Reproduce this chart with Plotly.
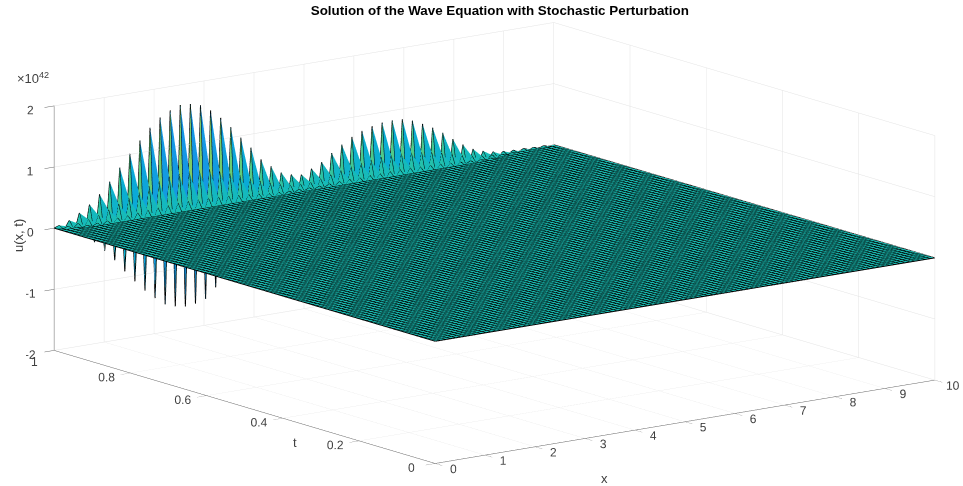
import numpy as np
import plotly.graph_objects as go

TITLE = "Solution of the Wave Equation with Stochastic Perturbation"
x_ticks = [0, 1, 2, 3, 4, 5, 6, 7, 8, 9, 10]
t_ticks = [0, 0.2, 0.4, 0.6, 0.8, 1]
t_ticktext = ["0", "0.2", "0.4", "0.6", "0.8", ""]
z_ticks = [-2, -1, 0, 1, 2]
z_ticktext = ["-2", "-1", "0", "1", "2"]
N_X = 100
N_T = 100

# values of u / 1e42 along the last three time rows
row_last = [0, .03, -.05, .085, -.12, .18, -.22, .29, -.34, .43, -.51, .61, -.69, .81, -.90, 1.01, -1.09, 1.20, -1.27, 1.38,
            -1.42, 1.52, -1.55, 1.61, -1.61, 1.67, -1.64, 1.66, -1.62, 1.61, -1.57, 1.50, -1.41, 1.35, -1.26, 1.17, -1.07, .97, -.87, .78,
            -.67, .56, -.49, .42, -.35, .29, -.26, .23, -.21, .20, -.23, .27, -.31, .35, -.41, .47, -.52, .58, -.63, .68,
            -.72, .75, -.78, .80, -.82, .83, -.84, .84, -.84, .83, -.81, .78, -.74, .70, -.66, .61, -.56, .50, -.44, .37,
            -.31, .25, -.20, .15, -.12, .09, -.07, .05, -.04, .03, -.02, .02, -.02, .02, -.01, .01, -.01, .01, -.01, 0]
row_prev = [0, -.01, .02, -.03, .04, -.06, .08, -.10, .12, -.15, .18, -.22, .25, -.29, .32, -.36, .39, -.43, .46, -.50,
            .51, -.55, .56, -.58, .58, -.60, .59, -.60, .58, -.58, .57, -.54, .51, -.49, .45, -.42, .39, -.35, .31, -.28,
            .24, -.20, .18, -.15, .13, -.10, .09, -.08, .08, -.07, .08, -.10, .11, -.13, .15, -.17, .19, -.21, .23, -.24,
            .26, -.27, .28, -.29, .30, -.30, .30, -.30, .30, -.30, .29, -.28, .27, -.25, .24, -.22, .20, -.18, .16, -.13,
            .11, -.09, .07, -.05, .04, -.03, .03, -.02, .01, -.01, .01, 0, 0, 0, 0, 0, 0, 0, 0, 0]
row_third = [0, 0, 0, .01, -.01, .01, -.02, .02, -.03, .03, -.04, .05, -.05, .06, -.07, .08, -.09, .10, -.10, .11,
             -.11, .12, -.12, .13, -.13, .13, -.13, .13, -.13, .13, -.13, .12, -.11, .11, -.10, .09, -.09, .08, -.07, .06,
             -.05, .04, -.04, .03, -.03, .02, -.02, .02, -.02, .02, -.02, .02, -.02, .03, -.03, .04, -.04, .05, -.05, .05,
             -.06, .06, -.06, .06, -.07, .07, -.07, .07, -.07, .07, -.06, .06, -.06, .06, -.05, .05, -.04, .04, -.04, .03,
             -.02, .02, -.02, .01, -.01, .01, -.01, 0, 0, 0, 0, 0, 0, 0, 0, 0, 0, 0, 0, 0]

parula_stops = [0, .1, .2, .3, .4, .5, .6, .7, .8, .9, 1]
parula_rgb = [(62, 38, 168), (71, 82, 244), (40, 120, 245), (25, 145, 232), (10, 172, 215), (25, 190, 180),
              (87, 204, 130), (140, 204, 90), (209, 189, 77), (252, 190, 60), (249, 251, 21)]
C_LIM = 1.67

x = np.linspace(0, 10, N_X)
t = np.linspace(0, 1, N_T)
Z = np.zeros((N_T, N_X))
Z[-1] = row_last
Z[-2] = row_prev
Z[-3] = row_third

X, T = np.meshgrid(x, t)
idx = np.arange(N_T * N_X).reshape(N_T, N_X)
a, b, c, d = idx[:-1, :-1].ravel(), idx[:-1, 1:].ravel(), idx[1:, 1:].ravel(), idx[1:, :-1].ravel()
zv = Z.ravel()
# split each cell so that an upward spike keeps its wide base on the row below
split_bd = zv[d] > zv[c]
tri_i = np.concatenate([a, np.where(split_bd, b, a)])
tri_j = np.concatenate([b, c])
tri_k = np.concatenate([np.where(split_bd, d, c), d])

frac = np.clip((Z[:-1, :-1].ravel() + C_LIM) / (2 * C_LIM), 0, 1)
chan = [np.interp(frac, parula_stops, [p[n] for p in parula_rgb]) for n in range(3)]
cell_cols = [f"rgb({int(r)},{int(g)},{int(bl)})" for r, g, bl in zip(*chan)]

fig = go.Figure()
fig.add_trace(go.Mesh3d(x=X.ravel(), y=T.ravel(), z=zv, i=tri_i, j=tri_j, k=tri_k,
                        facecolor=cell_cols + cell_cols, flatshading=True,
                        lighting=dict(ambient=1, diffuse=0, specular=0, fresnel=0),
                        hoverinfo="skip", showscale=False))

lx, ly, lz = [], [], []
for n in range(N_T):
    lx += list(X[n]) + [None]; ly += list(T[n]) + [None]; lz += list(Z[n]) + [None]
for m in range(N_X):
    lx += list(X[:, m]) + [None]; ly += list(T[:, m]) + [None]; lz += list(Z[:, m]) + [None]
fig.add_trace(go.Scatter3d(x=lx, y=ly, z=lz, mode="lines", line=dict(color="#000000", width=2),
                           hoverinfo="skip", showlegend=False))

axis_common = dict(showbackground=False, showgrid=True, gridcolor="#e3e3e3", gridwidth=1,
                   showline=True, linecolor="#666666", linewidth=1, ticks="outside", tickcolor="#666666",
                   ticklen=12, zeroline=False, showspikes=False, tickangle=0,
                   tickfont=dict(family="Liberation Sans", size=12, color="#404040"),
                   tickmode="array")
title_font = dict(family="Liberation Sans", size=13, color="#404040")
EYE = 6.0
SCALE = 2.57


def label(text, px, py, angle=0, font=title_font):
    return dict(text=text, xref="paper", yref="paper", x=px / 963, y=1 - py / 486, xanchor="center", yanchor="middle",
                showarrow=False, textangle=angle, font=font)


fig.update_layout(
    width=963, height=486, paper_bgcolor="white", showlegend=False,
    margin=dict(l=0, r=0, t=0, b=0),
    title=dict(text="<b>" + TITLE + "</b>", x=0.519, xanchor="center", y=0.979, yanchor="middle",
               font=dict(family="Liberation Sans", size=13.4, color="#000000")),
    scene=dict(
        domain=dict(x=[0.027, 1], y=[0, 1]),
        xaxis=dict(axis_common, range=[0, 10], tickvals=x_ticks, ticktext=[str(v) for v in x_ticks], title=dict(text="")),
        yaxis=dict(axis_common, range=[0, 1], tickvals=t_ticks, ticktext=t_ticktext, title=dict(text="")),
        zaxis=dict(axis_common, range=[-2, 2], tickvals=z_ticks, ticktext=z_ticktext, title=dict(text=""), ticklen=8),
        aspectmode="manual", aspectratio=dict(x=1 * SCALE, y=1.017 * SCALE, z=0.4016 * SCALE),
        camera=dict(projection=dict(type="orthographic"), center=dict(x=0, y=0, z=0), up=dict(x=0, y=0, z=1),
                    eye=dict(x=-0.585 * EYE, y=-0.78 * EYE, z=0.2226 * EYE)),
    ),
    annotations=[dict(text="×10<sup>42</sup>", xref="paper", yref="paper", x=15 / 963, y=1 - 78 / 486,
                      xanchor="left", yanchor="middle", showarrow=False,
                      font=dict(family="Liberation Sans", size=13, color="#404040")),
                 label("x", 604, 478), label("t", 295, 442), label("u(x, t)", 18, 236, -90),
                 label("1", 34, 362, font=axis_common["tickfont"])],
)
fig.write_html("out.html", post_script="document.body.style.margin='0';", config={"displayModeBar": False})
